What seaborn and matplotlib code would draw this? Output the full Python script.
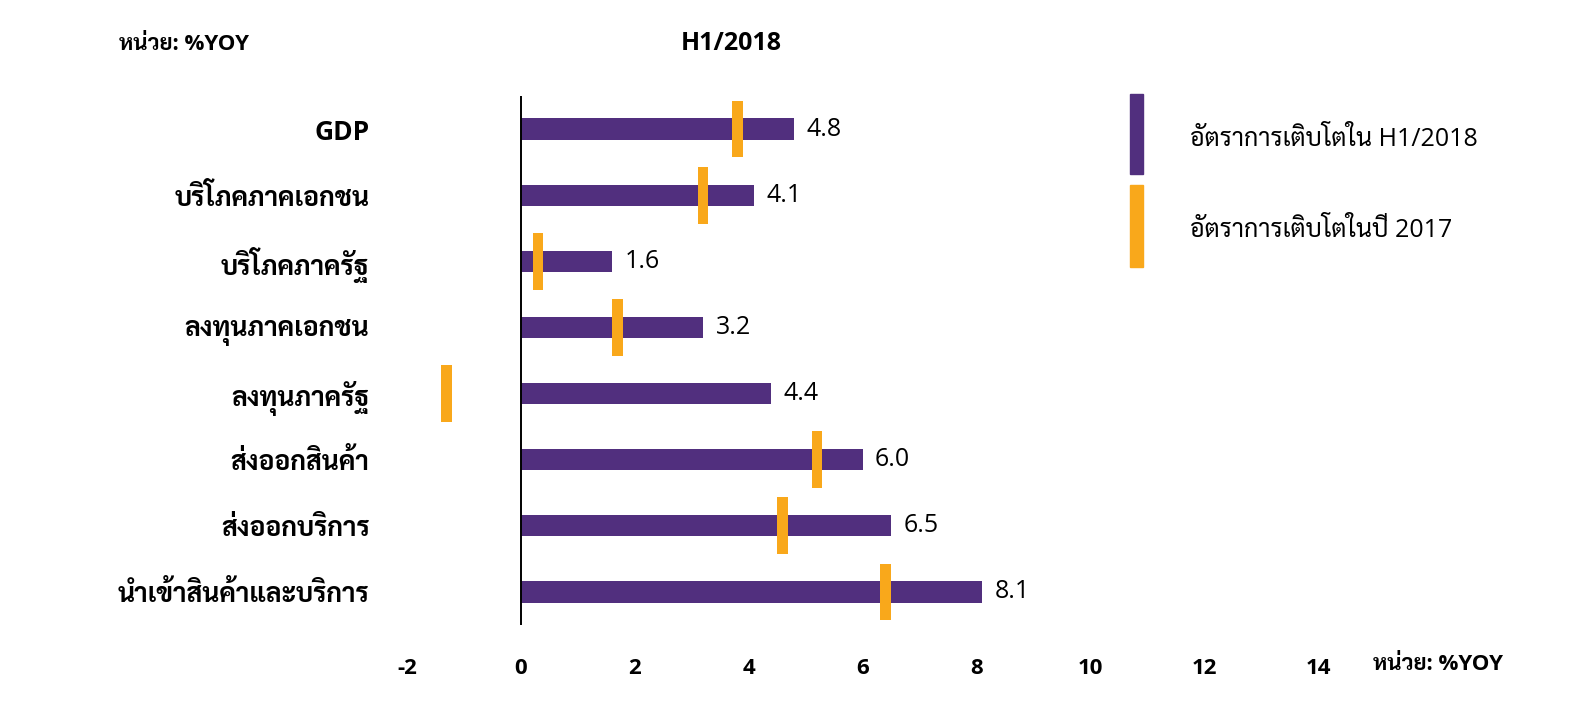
import numpy as np
import pandas as pd
import matplotlib
matplotlib.use('Agg')
import matplotlib.pyplot as plt
from matplotlib.patches import Rectangle
import seaborn as sns

# data
categories = ['GDP', 'บริโภคภาคเอกชน', 'บริโภคภาครัฐ', 'ลงทุนภาคเอกชน',
              'ลงทุนภาครัฐ', 'ส่งออกสินค้า', 'ส่งออกบริการ', 'นำเข้าสินค้าและบริการ']
growth_h1_2018 = [4.8, 4.1, 1.6, 3.2, 4.4, 6.0, 6.5, 8.1]
growth_2017 = [3.8, 3.2, 0.3, 1.7, -1.3, 5.2, 4.6, 6.4]
x_ticks = [-2, 0, 2, 4, 6, 8, 10, 12, 14]

PURPLE = '#512f7e'
ORANGE = '#f9a81b'
W, H = 1581, 706

sns.set_style('white')
plt.rcParams['font.family'] = ['Open Sans', 'Sarabun', 'Noto Sans Thai', 'DejaVu Sans']
plt.rcParams['text.color'] = 'black'
plt.rcParams['xtick.color'] = 'black'
plt.rcParams['ytick.color'] = 'black'

df = pd.DataFrame({'cat': categories, 'h1': growth_h1_2018, 'y17': growth_2017})

fig = plt.figure(figsize=(W/100, H/100), dpi=100)
ax = fig.add_axes([407/W, 1-625/H, (1318-407)/W, (625-96)/H])

sns.barplot(data=df, x='h1', y='cat', color=PURPLE, width=0.32,
            orient='h', saturation=1, linewidth=0, ax=ax)

# 2017 markers as thin vertical bars on the same scale
pos = np.arange(len(df))
ax.bar(df['y17'], height=0.86, bottom=pos - 0.43, width=0.19,
       color=ORANGE, linewidth=0, zorder=3)

for i, v in enumerate(df['h1']):
    ax.text(v + 0.22, i, f'{v:.1f}', va='center', ha='left', fontsize=18)

ax.axvline(0, color='black', lw=1.4, zorder=4)
ax.set_xlim(-2, 14)
ax.set_ylim(len(df) - 0.5, -0.5)
ax.set_xticks(x_ticks)
ax.set_xticklabels([str(t) for t in x_ticks], fontsize=16, fontweight='bold')
ax.set_xlabel('')
ax.set_ylabel('')
ax.tick_params(axis='x', length=0, pad=24)
ax.tick_params(axis='y', length=0, pad=27)
for lab in ax.get_yticklabels():
    lab.set_fontsize(19)
    lab.set_fontweight('bold')
for s in ax.spines.values():
    s.set_visible(False)

fig.text(731/W, 1-44/H, 'H1/2018', ha='center', va='center',
         fontsize=18, fontweight='bold')
fig.text(119/W, 1-44/H, 'หน่วย: %YOY', ha='left', va='center',
         fontsize=16, fontweight='bold')
fig.text(1373/W, 1-665/H, 'หน่วย: %YOY', ha='left', va='center',
         fontsize=16, fontweight='bold')

# legend
fig.patches.append(Rectangle((1130/W, 1-174/H), 13/W, 80/H,
                             transform=fig.transFigure, color=PURPLE))
fig.patches.append(Rectangle((1130/W, 1-267/H), 13/W, 82/H,
                             transform=fig.transFigure, color=ORANGE))
fig.text(1190/W, 1-139/H, 'อัตราการเติบโตใน H1/2018', ha='left',
         va='center', fontsize=18)
fig.text(1190/W, 1-231/H, 'อัตราการเติบโตในปี 2017', ha='left',
         va='center', fontsize=18)

fig.savefig('out.png', dpi=100)
